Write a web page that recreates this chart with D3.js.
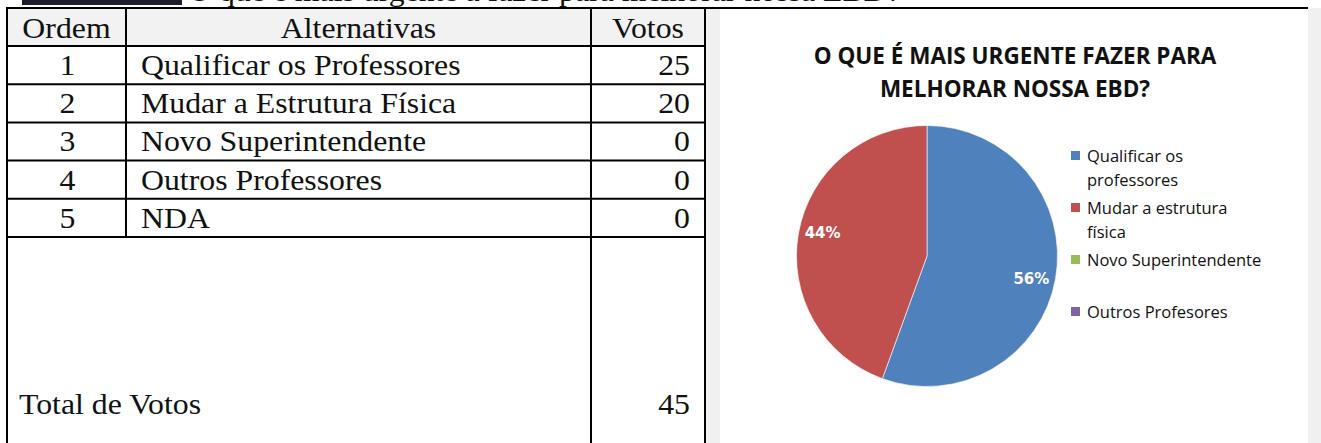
<!DOCTYPE html>
<html>
<head>
<meta charset="utf-8">
<script src="https://cdn.jsdelivr.net/npm/d3@7"></script>
<style>
  html, body { margin: 0; padding: 0; background: #ffffff; }
  svg { display: block; }
</style>
</head>
<body>
<svg id="chart" width="1321" height="443"></svg>
<script>
// ---------- data ----------
const headerLabels = ["Ordem", "Alternativas", "Votos"];
const ordem = [1, 2, 3, 4, 5];
const alternativas = ["Qualificar os Professores", "Mudar a Estrutura Física", "Novo Superintendente", "Outros Professores", "NDA"];
const votos = [25, 20, 0, 0, 0];
const totalLabel = "Total de Votos";
const totalVotos = 45;
const questionText = "O que é mais urgente a fazer para melhorar nossa EBD?";

const chartTitle = ["O QUE É MAIS URGENTE FAZER PARA", "MELHORAR NOSSA EBD?"];
const pieCategories = ["Qualificar os professores", "Mudar a estrutura física", "Novo Superintendente", "Outros Profesores"];
const pieValues = [25, 20, 0, 0];
const legendLines = [["Qualificar os", "professores"], ["Mudar a estrutura", "física"], ["Novo Superintendente", ""], ["Outros Profesores"]];
const pieColors = ["#4F81BD", "#C0504D", "#9BBB59", "#8064A2"];

// ---------- drawing ----------
const svg = d3.select("#chart");
const serif = "'Liberation Serif', 'Times New Roman', serif";
const fs = 30, sx = 1.06; // size and horizontal stretch of the scanned table text

// backgrounds
svg.append("rect").attr("x", 706).attr("y", 8).attr("width", 615).attr("height", 435).attr("fill", "#f0f0f0");
svg.append("rect").attr("x", 720).attr("y", 8).attr("width", 588).attr("height", 435).attr("fill", "#ffffff");

// cut-off question line at the very top
svg.append("rect").attr("x", 22).attr("y", 0).attr("width", 160).attr("height", 5).attr("fill", "#1d1d2b");
svg.append("text").attr("transform", `translate(188,0.5) scale(${sx},1)`)
  .attr("font-family", serif).attr("font-size", fs).attr("fill", "#111")
  .text(questionText);

// table geometry
const colX = [7, 126, 591, 705];
const headerTop = 8, headerBottom = 46, tableBottom = 460;
const yRow = d3.scaleBand().domain(ordem).range([headerBottom, 237]);

// header background
svg.append("rect").attr("x", colX[0]).attr("y", headerTop).attr("width", colX[3] - colX[0]).attr("height", headerBottom - headerTop).attr("fill", "#f2f2f2");

const lines = svg.append("g").attr("stroke", "#000").attr("stroke-width", 2);
lines.append("line").attr("x1", colX[0] - 1).attr("x2", 1308).attr("y1", headerTop).attr("y2", headerTop);
[headerBottom, ...ordem.map(d => yRow(d) + yRow.bandwidth())].forEach(y => {
  lines.append("line").attr("x1", colX[0]).attr("x2", colX[3]).attr("y1", y).attr("y2", y);
});
lines.append("line").attr("x1", colX[0]).attr("x2", colX[0]).attr("y1", headerTop).attr("y2", tableBottom);
lines.append("line").attr("x1", colX[1]).attr("x2", colX[1]).attr("y1", headerTop).attr("y2", yRow(5) + yRow.bandwidth());
lines.append("line").attr("x1", colX[2]).attr("x2", colX[2]).attr("y1", headerTop).attr("y2", tableBottom);
lines.append("line").attr("x1", colX[3]).attr("x2", colX[3]).attr("y1", headerTop).attr("y2", tableBottom);

function cellText(x, y, anchor, txt) {
  svg.append("text").attr("transform", `translate(${x},${y}) scale(${sx},1)`)
    .attr("text-anchor", anchor).attr("font-family", serif).attr("font-size", fs).attr("fill", "#111")
    .text(txt);
}
cellText((colX[0] + colX[1]) / 2, 38, "middle", headerLabels[0]);
cellText((colX[1] + colX[2]) / 2, 38, "middle", headerLabels[1]);
cellText((colX[2] + colX[3]) / 2, 38, "middle", headerLabels[2]);
ordem.forEach((o, i) => {
  const base = yRow(o) + 29;
  cellText((colX[0] + colX[1]) / 2 + 1, base, "middle", String(o));
  cellText(colX[1] + 15, base, "start", alternativas[i]);
  cellText(colX[3] - 15, base, "end", String(votos[i]));
});
cellText(colX[0] + 12, 414, "start", totalLabel);
cellText(colX[3] - 15, 414, "end", String(totalVotos));

// ---------- pie chart ----------
const sans = "'Open Sans', 'Noto Sans', sans-serif";
const titleG = svg.append("g").attr("font-family", sans).attr("font-weight", 700).attr("font-size", 22.5).attr("fill", "#111").attr("text-anchor", "middle");
chartTitle.forEach((t, i) => titleG.append("text").attr("x", 1015).attr("y", 64 + i * 33).text(t));

const cx = 927, cy = 256, r = 130.5;
const pie = d3.pie().sort(null).value(d => d.v);
const pieData = pie(pieCategories.map((c, i) => ({ c, v: pieValues[i], color: pieColors[i] })));
const arc = d3.arc().innerRadius(0).outerRadius(r);
const labelArc = d3.arc().innerRadius(106).outerRadius(106);
const total = d3.sum(pieValues);
const pg = svg.append("g").attr("transform", `translate(${cx},${cy})`);
pg.selectAll("path").data(pieData.filter(d => d.value > 0)).join("path")
  .attr("d", arc).attr("fill", d => d.data.color)
  .attr("stroke", "rgba(255,255,255,0.6)").attr("stroke-width", 1);
pg.selectAll("text").data(pieData.filter(d => d.value > 0)).join("text")
  .attr("transform", d => { const [x, y] = labelArc.centroid(d); return `translate(${x},${y * 1.25})`; })
  .attr("dy", "0.36em").attr("text-anchor", "middle")
  .attr("font-family", "'DejaVu Sans', sans-serif").attr("font-weight", 700).attr("font-size", 15)
  .attr("fill", "#fff")
  .text(d => Math.round(d.value / total * 100) + "%");

// legend
const lg = svg.append("g").attr("font-family", sans).attr("font-size", 16.5).attr("fill", "#111");
let ly = 156;
legendLines.forEach((ls, i) => {
  lg.append("rect").attr("x", 1071).attr("y", ly - 5).attr("width", 9).attr("height", 9).attr("fill", pieColors[i]);
  ls.forEach((t, j) => {
    lg.append("text").attr("x", 1087).attr("y", ly + j * 24).attr("dy", "0.35em").text(t);
  });
  ly += ls.length * 24 + 4;
});
</script>
</body>
</html>
